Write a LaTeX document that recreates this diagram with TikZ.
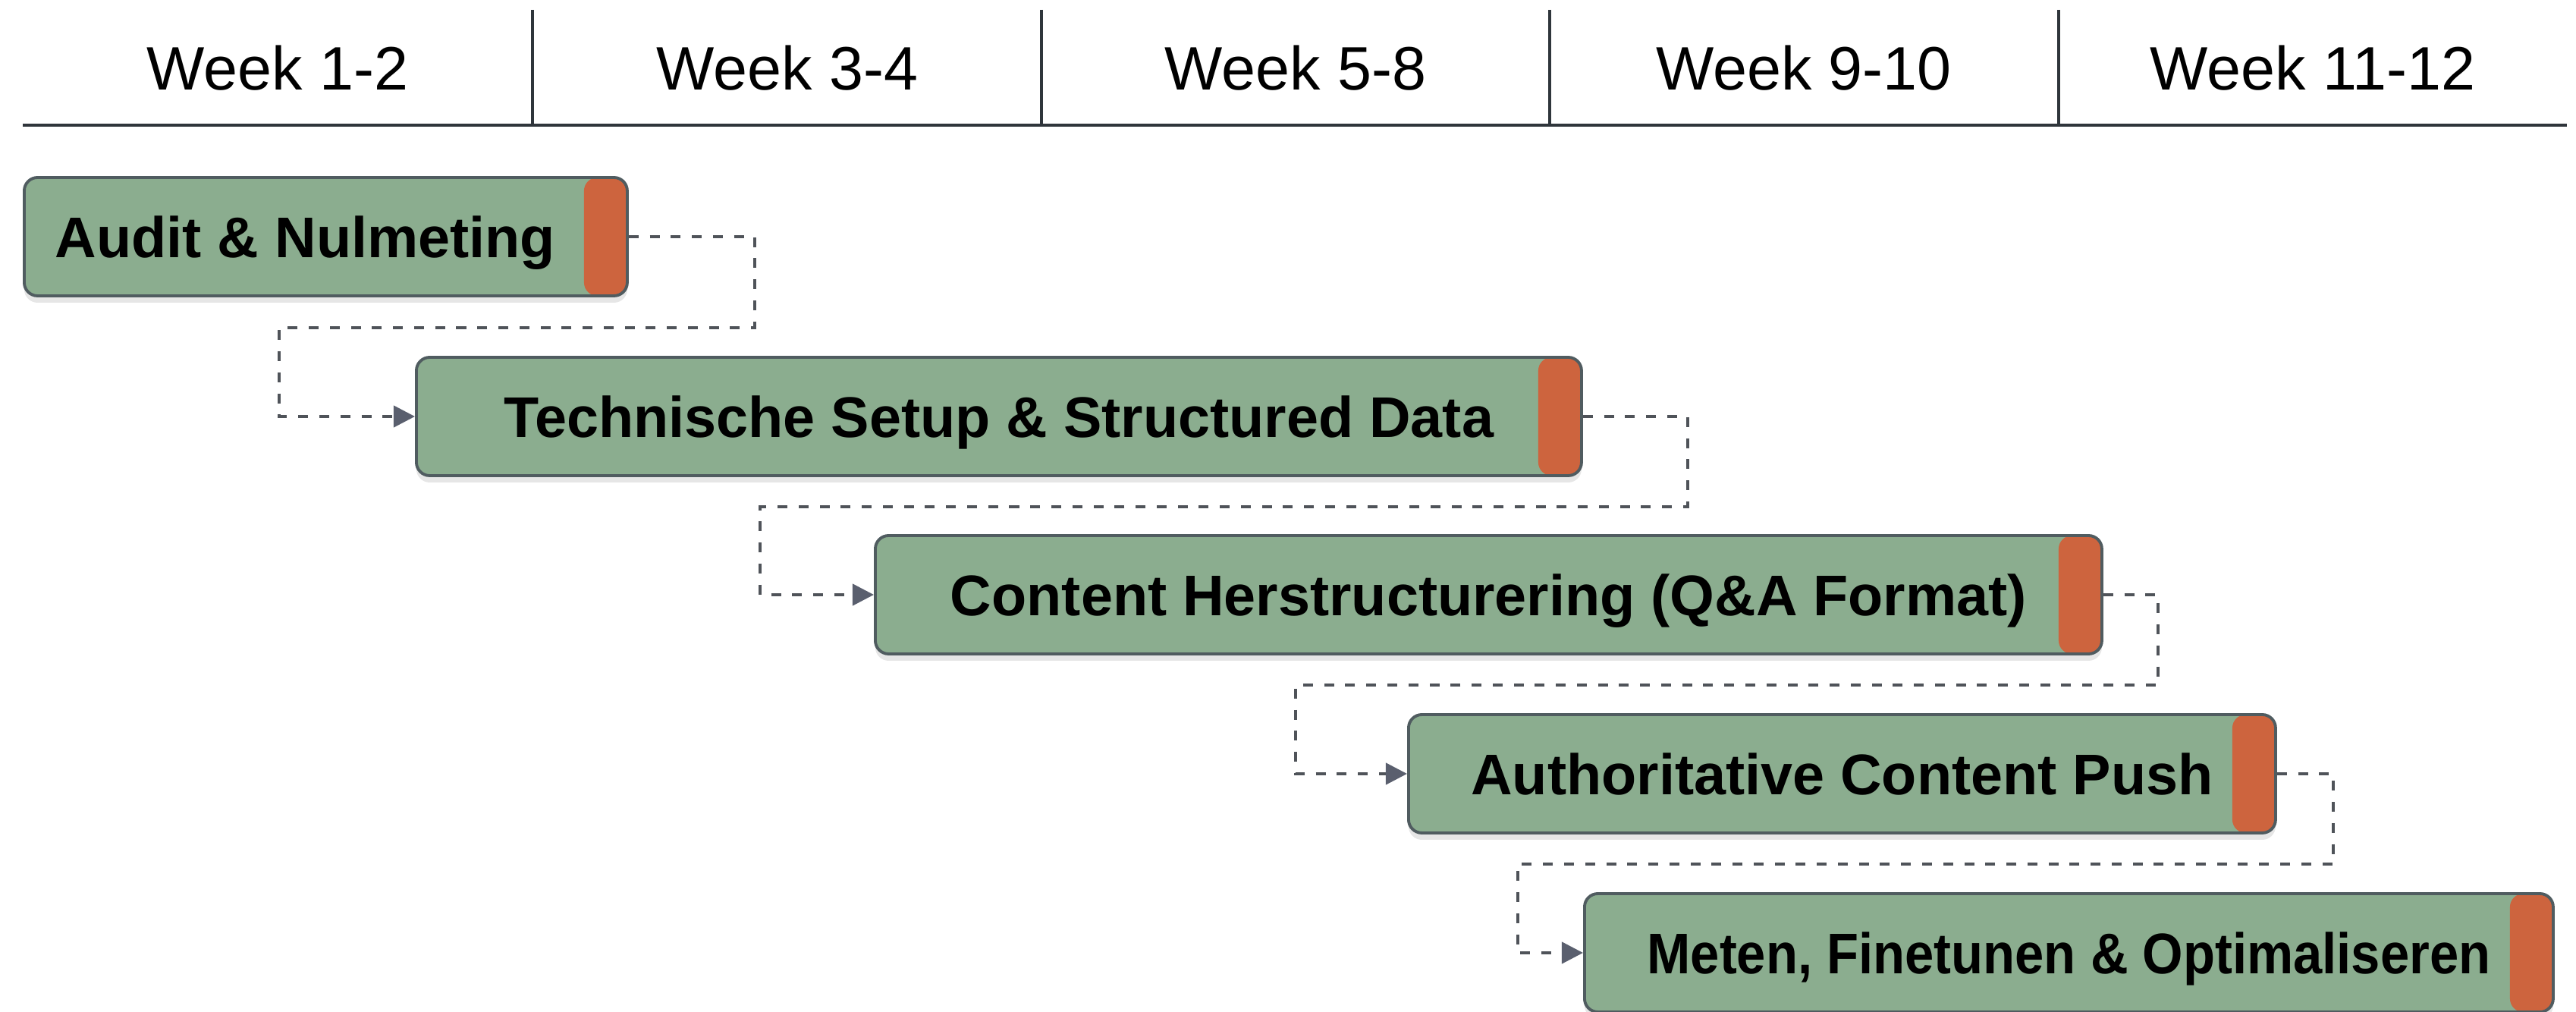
\documentclass[tikz,border=0pt]{standalone}
\usepackage{fontspec}
\setmainfont{Liberation Sans}
\usetikzlibrary{arrows.meta}
\usetikzlibrary{shadows}

\definecolor{barfill}{HTML}{8BAD8F}
\definecolor{bartag}{HTML}{CD643E}
\definecolor{barline}{HTML}{505C60}
\definecolor{depline}{HTML}{4F5359}
\definecolor{deptip}{HTML}{5A5F6E}
\definecolor{rule}{HTML}{2F353B}

\begin{document}
\begin{tikzpicture}[
  week/.style={font=\fontsize{23}{27}\selectfont},
  bar/.style={draw=barline,line width=1.1pt,fill=barfill,rounded corners=5pt,
    minimum height=1.56cm,anchor=west,inner sep=0pt,text depth=0pt,
    font=\fontsize{21.5}{26}\selectfont\bfseries,
    drop shadow={shadow xshift=0pt,shadow yshift=-0.09cm,opacity=0.2},
    path picture={\fill[bartag]([xshift=-0.57cm]path picture bounding box.north east) rectangle (path picture bounding box.south east);}},
  dep/.style={depline,line width=1.2pt,dash pattern=on 3.7pt off 4.2pt,
    -{Triangle[length=8pt,width=8pt,color=deptip]}}]
  \useasboundingbox (0,0) rectangle (33.96,13.34);

  \node[week] (w1) at (3.66,12.44) {Week 1-2};
  \node[week] (w2) at (10.38,12.44) {Week 3-4};
  \node[week] (w3) at (17.08,12.44) {Week 5-8};
  \node[week] (w4) at (23.78,12.44) {Week 9-10};
  \node[week] (w5) at (30.49,12.44) {Week 11-12};
  \draw[rule,line width=1.3pt] (0.30,11.69) -- (33.84,11.69);
  \foreach \x in {7.02,13.73,20.43,27.14}
    \draw[rule,line width=1pt] (\x,13.21) -- (\x,11.69);

  \node[bar,minimum width=7.95cm] (b1) at (0.30,10.22) {Audit \& Nulmeting\hspace*{0.54cm}};
  \node[bar,minimum width=15.36cm] (b2) at (5.47,7.85) {Technische Setup \& Structured Data};
  \node[bar,minimum width=16.17cm] (b3) at (11.52,5.50) {Content Herstructurering (Q\&A Format)};
  \node[bar,minimum width=11.43cm] (b4) at (18.55,3.14) {Authoritative Content Push};
  \node[bar,minimum width=12.77cm] (b5) at (20.87,0.78) {\scalebox{0.91}[1]{Meten, Finetunen \& Optimaliseren}};

  \draw[dep] (b1.east) -- ++(1.66,0) |- (3.68,9.02) |- (b2.west);
  \draw[dep] (b2.east) -- ++(1.38,0) |- (10.02,6.66) |- (b3.west);
  \draw[dep] (b3.east) -- ++(0.72,0) |- (17.08,4.31) |- (b4.west);
  \draw[dep] (b4.east) -- ++(0.74,0) |- (20.01,1.95) |- (b5.west);
\end{tikzpicture}
\end{document}
